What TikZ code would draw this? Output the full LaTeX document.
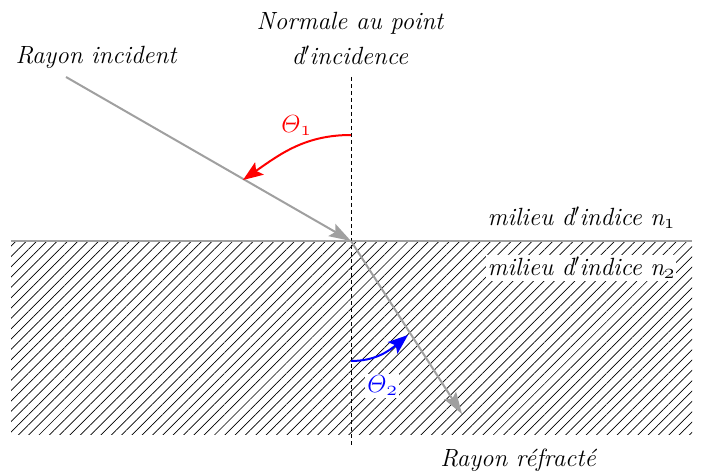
\documentclass[tikz,border=0pt]{standalone}
\usetikzlibrary{patterns.meta,arrows.meta}
\newcommand{\osub}[1]{\raisebox{-3bp}{\fontsize{20.74}{24}\selectfont$\mathnormal{#1}$}}
\begin{document}
\begin{tikzpicture}[x=1bp,y=-1bp,
  lbl/.style={font=\fontsize{25}{30}\selectfont\itshape, inner sep=2bp},
  ang/.style={font=\fontsize{24.88}{29}\selectfont, inner sep=2bp},
  ray/.style={draw={rgb,255:red,160;green,160;blue,160}, line width=2bp,
    -{Stealth[length=22bp,width=14bp,inset=4bp]}},
  arc/.style={line width=2bp, -{Stealth[length=20bp,width=15bp,inset=4bp]}}]
\useasboundingbox (0,0) rectangle (701,474);
% medium 2
\fill[pattern={Lines[angle=45,distance=7.3bp,line width=0.7bp]}] (11,241) rectangle (692,434);
\draw[draw={rgb,255:red,160;green,160;blue,160}, line width=1.2bp] (11,241) -- (692,241);
% coordinates
\coordinate (I) at (351,241);
\coordinate (S) at (66,77);
\coordinate (R) at (462,414);
\coordinate (Ntop) at (351,77);
\coordinate (Nbot) at (351,447);
\draw[line width=0.7bp, dash pattern=on 4bp off 3bp] (Ntop) -- (Nbot);
% rays
\draw[ray] (S) -- (I);
\draw[ray] (I) -- (R);
% angles
\coordinate (a1s) at (351,135);
\coordinate (a1e) at (243,180);
\draw[arc, red] (a1s) to[out=180,in=35] (a1e);
\coordinate (a2s) at (351,361);
\coordinate (a2e) at (408,335);
\draw[arc, blue] (a2s) to[out=0,in=-140] (a2e);
% labels
\node[ang, red] (t1) at (296,126) {$\mathnormal{\Theta}$\osub{1}};
\node[ang, blue, fill=white] (t2) at (382,386) {$\mathnormal{\Theta}$\osub{2}};
\node[lbl] (ri) at (96,57) {Rayon incident};
\node[lbl] (nm1) at (350,23) {Normale au point};
\node[lbl] (nm2) at (350,55) {d$'$incidence};
\node[lbl] (m1) at (581,218) {milieu d$'$indice n\osub{1}};
\node[lbl, fill=white] (m2) at (581,268) {milieu d$'$indice n\osub{2}};
\node[lbl] (rr) at (518,460) {Rayon réfracté};
\end{tikzpicture}
\end{document}
